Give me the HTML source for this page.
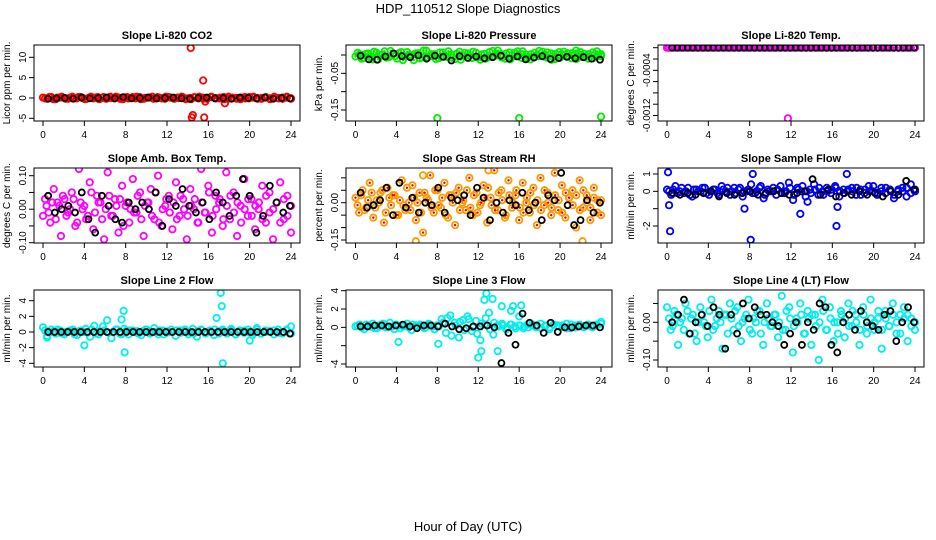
<!DOCTYPE html>
<html><head><meta charset="utf-8"><style>
body{margin:0;background:#fff}
svg{display:block;font-family:"Liberation Sans",sans-serif}
</style></head><body>
<svg id="c" width="936" height="540">
<text x="468" y="13" text-anchor="middle" font-size="13">HDP_110512  Slope Diagnostics</text>
<text x="468" y="531" text-anchor="middle" font-size="13">Hour of Day (UTC)</text>
</svg>
<script>
// ---- data ----
const xTicks=[0,4,8,12,16,20,24];
const co2Main=[0.1,-0.2,0.2,-0.3,0.1,0,-0.2,0.3,-0.1,0.2,-0.3,0.1,-0.1,0.2,0,-0.2,0.3,-0.1,0.1,-0.3,0.2,0,-0.1,0.2,-0.2,0.1,0.3,-0.1,0,-0.2,0.2,-0.1,0.1,0.3,-0.3,0,0.2,-0.1,0.1,-0.2,0.3,0,-0.1,0.2,-0.2,0.1,0,-0.3,0.2,-0.1,0.1,0,-0.2,0.2,-0.1,0.3,0,-0.2,0.1,-0.1];
const co2Main2=[-0.1,0.2,-0.3,0.1,0.3,-0.2,0.1,-0.1,0.2,0,-0.2,0.3,0.1,-0.3,0.2,-0.1,0,0.3,-0.2,0.1,-0.1,0.2,0.3,-0.3,0,0.1,-0.2,0.2,-0.1,0.3,0.1,-0.2,0,0.2,-0.1,-0.3,0.1,0.3,-0.2,0,0.2,-0.1,0.1,-0.3,0.3,0,-0.2,0.1,-0.1,0.2,0.3,-0.2,0,0.1,-0.3,0.2,-0.1,0.1,0.3,-0.2];
const co2Black=[-0.2,-0.1,0,-0.2,0.1,-0.1,0,0.1,-0.1,0.2,-0.1,0,0.1,-0.1,0,0.1,-0.1,-0.2,0,0.1,-0.1,0,-0.2,0.1,0,-0.1,0.1,-0.2,0,-0.1];
const co2OutX=[14.3,15.5,14.4,14.5,15.6,17.6,15.7];
const co2OutY=[12.3,4.3,-4.8,-4.2,-4.8,-1.3,-0.9];
const presMain=[-0.004,0.002,-0.008,0.004,-0.012,0.006,-0.002,0.01,-0.006,0.003,-0.01,0.008,-0.004,0,-0.014,0.005,-0.007,0.012,-0.003,0.002,-0.009,0.007,-0.005,0.001,-0.011,0.009,-0.002,0.004,-0.008,0.006,-0.013,0.003,-0.006,0.011,-0.001,0.002,-0.01,0.007,-0.004,0.01,-0.008,0.001,-0.012,0.006,-0.003,0.009,-0.007,0.004,-0.011,0.008,-0.002,0.005,-0.009,0.012,-0.005,0.003,-0.01,0.007,-0.004,0.002];
const presMain2=[0.006,-0.01,0.003,-0.005,0.009,-0.012,0.001,-0.007,0.011,-0.003,0.005,-0.014,0.008,-0.001,0.004,-0.009,0.012,-0.006,0.002,-0.011,0.007,-0.004,0.01,-0.008,0.003,-0.013,0.006,-0.002,0.009,-0.006,0.001,-0.01,0.008,-0.003,0.012,-0.007,0.004,-0.012,0.006,-0.001,0.01,-0.009,0.002,-0.005,0.011,-0.004,0.007,-0.013,0.003,-0.008,0.009,-0.002,0.005,-0.011,0.008,-0.006,0.002,-0.009,0.01,-0.003];
const presBlack=[-0.002,-0.012,-0.013,-0.004,0.004,-0.003,-0.006,-0.001,-0.01,-0.002,-0.005,-0.015,-0.003,-0.008,-0.004,-0.009,-0.006,-0.002,-0.01,-0.004,-0.012,-0.007,-0.003,-0.011,-0.008,-0.005,-0.009,-0.006,-0.01,-0.013];
const presOutX=[8,16,24];
const presOutY=[-0.172,-0.172,-0.168];
const tempMain=[0,0,0,0,0,0,0,0,0,0,0,0,0,0,0,0,0,0,0,0,0,0,0,0,0,0,0,0,0,0,0,0,0,0,0,0,0,0,0,0,0,0,0,0,0,0,0,0,0,0,0,0,0,0,0,0,0,0,0,0];
const tempMain2=[0,0,0,0,0,0,0,0,0,0,0,0,0,0,0,0,0,0,0,0,0,0,0,0,0,0,0,0,0,0,0,0,0,0,0,0,0,0,0,0,0,0,0,0,0,0,0,0,0,0,0,0,0,0,0,0,0,0,0,0];
const tempBlack=[0,0,0,0,0,0,0,0,0,0,0,0,0,0,0,0,0,0,0,0,0,0,0,0,0,0,0,0,0,0,0,0,0,0,0,0,0,0,0,0,0,0,0,0,0,0,0,0];
const tempOutX=[0.1,11.7];
const tempOutY=[0,-0.00125];
const boxMain=[-0.02,0.01,-0.04,0.06,0.02,-0.08,0.03,-0.01,0.05,-0.05,0.12,0.0,-0.03,0.08,-0.06,0.04,0.02,-0.09,0.11,-0.02,0.03,-0.07,0.07,0.01,-0.04,0.09,-0.01,0.05,-0.08,0.02,0.06,-0.03,0.1,-0.05,0.01,0.04,-0.06,0.08,-0.02,0.03,-0.09,0.06,0.0,-0.04,0.12,-0.01,0.07,-0.07,0.04,0.02,-0.05,0.11,-0.03,0.05,-0.08,0.01,0.09,-0.02,0.03,-0.06,0.0,0.07,-0.04,0.05,-0.09,0.02,0.08,-0.03,0.04,-0.07];
const boxMain2=[0.03,-0.01,0.02,-0.03,0.01,0.04,-0.02,0.0,0.03,-0.04,0.02,0.01,-0.02,0.05,-0.01,0.02,-0.03,0.0,0.04,-0.02,0.01,0.03,-0.05,0.02,0.0,-0.01,0.04,-0.03,0.01,0.02,-0.02,0.05,-0.04,0.0,0.03,-0.01,0.02,-0.03,0.04,0.0,-0.02,0.01,0.03,-0.04,0.02,-0.01,0.05,-0.02,0.0,0.03,-0.03,0.01,0.04,-0.01,0.02,-0.04,0.0,0.03,-0.02,0.01,0.02,-0.03,0.04,-0.01,0.0,0.02,-0.04,0.03,-0.02,0.01];
const boxBlack=[0.04,-0.01,0.0,0.01,-0.01,0.05,-0.03,-0.07,0.04,0.01,-0.03,-0.04,0.02,0.0,0.02,0.0,0.05,-0.05,0.03,0.01,0.06,0.01,-0.01,0.02,-0.03,0.05,0.02,-0.02,0.04,0.09,0.04,-0.07,-0.02,0.07,0.02,-0.01,0.01];
const rhMain=[0.02,-0.04,0.05,-0.02,0.08,-0.06,0.01,0.04,-0.08,0.06,-0.01,0.03,-0.05,0.09,-0.03,0.0,0.07,-0.07,0.04,-0.12,0.02,0.11,-0.04,0.05,-0.02,0.08,-0.06,0.03,-0.09,0.06,0.0,-0.03,0.1,-0.05,0.04,-0.01,0.07,-0.08,0.02,0.13,-0.03,0.05,-0.06,0.09,-0.02,0.03,-0.07,0.08,0.0,-0.04,0.06,-0.09,0.1,-0.01,0.04,-0.05,0.12,-0.03,0.07,-0.06,0.02,0.05,-0.1,0.09,-0.02,0.03,-0.07,0.06,-0.04,0.01];
const rhMain2=[-0.01,0.03,-0.03,0.01,0.04,-0.02,0.0,0.05,-0.04,0.02,0.03,-0.05,0.01,-0.01,0.06,-0.03,0.02,0.0,-0.04,0.04,0.01,-0.02,0.05,-0.01,0.02,-0.05,0.03,0.0,0.04,-0.03,0.01,0.05,-0.02,0.03,-0.04,0.0,0.02,0.06,-0.01,-0.03,0.04,0.01,-0.05,0.03,0.0,0.05,-0.02,-0.04,0.02,0.04,-0.01,0.01,-0.03,0.05,0.0,-0.02,0.03,0.01,-0.04,0.04,0.02,-0.01,0.03,-0.03,0.05,0.0,-0.02,0.02,0.01,-0.05];
const rhBlack=[0.04,-0.02,-0.01,0.01,0.06,-0.05,0.08,-0.02,0.02,-0.04,0.0,-0.01,0.06,-0.04,0.02,0.01,0.03,-0.05,0.06,0.02,-0.07,0.0,-0.04,0.01,-0.01,0.04,-0.03,0.0,-0.07,0.03,0.01,0.12,-0.01,-0.09,-0.07,0.01,-0.04,0.0];
const rhOutX=[5.9,13,6.6,22.2];
const rhOutY=[-0.155,0.13,0.11,-0.155];
const flowMain=[0.1,-0.2,0.3,0.0,-0.1,0.2,-0.3,0.1,0.0,0.2,-0.2,0.1,-0.1,0.3,0.0,-0.2,0.2,0.1,-0.3,0.0,0.4,-0.1,0.2,-0.4,0.1,0.0,-0.2,0.3,-0.1,0.5,-0.5,0.2,0.0,-0.3,0.1,0.4,-0.2,0.0,0.2,-0.1,0.3,-0.3,0.1,0.0,0.2,-0.2,0.1,-0.1,0.3,0.0,-0.2,0.2,-0.1,0.1,-0.4,0.0,0.2,-0.3,0.4,0.1];
const flowMain2=[0.0,0.1,-0.1,0.2,0.0,-0.2,0.1,0.0,0.2,-0.1,0.0,0.1,-0.2,0.1,0.2,0.0,-0.1,0.2,0.0,0.1,-0.1,0.0,0.3,-0.2,0.0,0.2,0.1,-0.1,0.0,0.2,-0.2,0.1,0.3,0.0,-0.1,0.1,0.2,-0.2,0.0,0.1,0.2,0.0,-0.1,0.1,0.0,0.2,-0.2,0.1,0.0,0.3,-0.1,0.0,0.2,0.1,-0.2,0.1,0.0,0.2,-0.1,0.0];
const flowBlack=[-0.1,-0.2,-0.1,-0.2,-0.1,0.0,-0.3,-0.1,-0.2,-0.1,0.0,-0.2,-0.1,0.0,-0.1,-0.2,-0.1,0.0,0.7,-0.2,0.1,-0.3,-0.1,-0.2,0.0,-0.2,-0.1,-0.3,0.0,-0.2,0.6,0.1];
const flowOutX=[0.1,0.2,0.3,8.1,8.3,7.5,12.9,13.6,16.4,17.4,16.5];
const flowOutY=[1.1,-0.8,-2.3,-2.8,1.0,-1.0,-1.3,-0.6,-2.0,1.0,-0.9];
const l2Main=[0.6,-0.5,0.3,-0.2,0.2,-0.3,0.1,0.3,-0.4,0.2,0.4,-0.6,0.8,-0.3,0.7,1.5,-0.8,0.3,-0.2,0.4,-0.3,0.2,0.1,-0.4,0.3,-0.2,0.5,-0.3,0.2,-0.1,0.3,-0.5,0.2,0.1,-0.3,0.4,-0.6,0.3,-0.2,0.2,-0.4,0.1,0.3,-0.2,0.4,-0.3,0.2,-0.1,0.3,-0.4,0.5,-0.2,0.2,0.1,-0.3,0.3,-0.2,0.2,0.7];
const l2Main2=[0.2,-0.1,0.1,0.3,-0.2,0.0,0.2,-0.3,0.1,0.0,-0.1,0.3,-0.2,0.1,0.2,-0.1,0.0,0.3,-0.3,0.1,0.2,0.0,-0.2,0.1,0.3,-0.1,0.0,0.2,-0.3,0.1,0.0,0.2,-0.1,0.3,0.0,-0.2,0.1,0.2,-0.1,0.0,0.3,-0.2,0.1,0.0,0.2,-0.3,0.1,0.2,0.0,-0.1,0.3,-0.2,0.0,0.1,0.2,-0.1,0.0,0.3,-0.2];
const l2Black=[0,0,0,0,0,0,0,0,0,0,0,0,0,0,0,0,0,0,0,0,0,0,0,0,0,0,0,0,0,0,0,0,0,0,0,0,0,-0.2];
const l2OutX=[0.4,4.0,7.8,7.6,7.9,16.8,17.2,17.3,17.4,20.0];
const l2OutY=[-0.7,-1.7,2.7,1.6,-2.6,1.8,5.0,3.3,-4.0,-1.1];
const l3Main=[0.1,0.3,-0.2,0.2,0.4,-0.1,0.3,0.0,0.5,-0.2,0.2,0.1,0.4,-0.3,0.2,0.3,-0.1,0.4,0.1,0.2,0.9,-0.6,1.3,0.5,-1.1,0.8,1.2,-0.4,0.7,-1.4,0.3,1.6,-0.8,0.2,0.4,-0.2,0.3,0.1,0.2,-0.1,0.3,0.2,0.0,0.4,0.1,-0.2,0.3,0.2,0.1,0.4,-0.1,0.2,0.3,0.0,0.2,0.1,0.3,0.6];
const l3Main2=[0.2,0.0,0.3,0.1,-0.1,0.2,0.4,0.0,0.1,0.3,-0.1,0.2,0.0,0.3,0.1,0.2,0.0,0.3,-0.2,0.1,0.5,1.0,-0.9,0.2,0.6,-0.3,0.9,0.0,-0.7,0.4,1.0,-0.2,0.5,0.1,0.2,0.0,0.3,-0.1,0.2,0.1,0.0,0.3,0.2,-0.1,0.2,0.0,0.3,0.1,0.2,-0.1,0.3,0.0,0.2,0.1,0.3,0.0,0.2,0.4];
const l3Black=[0.1,0.1,0.2,0.2,0.1,0.2,0.3,0.1,-0.1,0.2,0.2,0.1,0.4,0.1,-0.2,-0.1,0.1,0.1,0.2,0.0,-3.9,-0.6,-1.9,1.5,0.5,0.2,-0.6,0.5,-0.5,0.0,0.0,0.1,0.2,0.2,0.0];
const l3OutX=[4.2,8.1,12.0,12.3,12.6,12.8,13.4,13.9,14.3,15.2,15.4,16.0,16.2];
const l3OutY=[-1.6,-1.8,-3.3,-2.6,3.0,3.7,3.1,-2.6,2.3,1.8,2.3,1.2,2.4];
const l4Main=[0.04,-0.02,0.03,-0.06,0.01,0.05,-0.03,0.02,-0.05,0.04,0.0,-0.04,0.06,-0.01,0.03,-0.07,0.02,0.05,-0.02,0.04,-0.05,0.01,0.06,-0.03,0.0,0.03,-0.06,0.05,-0.01,0.02,-0.04,0.07,-0.02,0.04,-0.08,0.01,0.05,-0.03,0.03,-0.06,0.02,-0.1,0.06,-0.02,0.04,-0.05,0.0,0.03,-0.04,0.05,-0.01,0.02,-0.06,0.04,-0.03,0.06,-0.02,0.01,-0.07,0.03,-0.01,0.05,-0.03,0.02,0.04,-0.05,0.01,-0.02];
const l4Main2=[0.01,-0.01,0.02,0.0,-0.02,0.03,0.01,-0.03,0.0,0.02,-0.01,0.03,-0.02,0.01,0.0,0.02,-0.03,0.01,0.03,-0.01,0.0,0.02,-0.02,0.01,0.03,-0.03,0.0,0.01,-0.01,0.02,0.0,-0.02,0.03,0.01,-0.01,0.0,0.02,-0.03,0.01,0.02,-0.01,0.0,0.03,-0.02,0.01,0.0,-0.03,0.02,0.01,-0.01,0.03,0.0,-0.02,0.02,-0.01,0.01,0.0,0.03,-0.02,0.01,-0.01,0.02,0.0,-0.03,0.01,0.02,-0.01,0.0];
const l4Black=[0.0,0.02,0.06,-0.03,0.0,0.02,-0.01,0.04,0.02,-0.07,0.02,-0.03,0.05,0.01,0.04,0.02,0.02,0.0,-0.01,-0.06,-0.03,0.0,-0.06,0.0,-0.02,0.05,0.04,-0.06,-0.08,0.0,0.02,-0.02,0.03,0.0,-0.01,-0.02,0.02,0.03,-0.05,0.0,0.04,0.0];

// ---- layout ----
const cols=[{l:34,r:300,x0:43,x24:291},{l:346,r:612,x0:355.5,x24:601},{l:658,r:924,x0:667,x24:915}];
const rows=[{t:45,b:121},{t:168,b:243},{t:290,b:367}];
const NS='http://www.w3.org/2000/svg';
const svg=document.getElementById('c');
function mk(tag,attrs,parent){const e=document.createElementNS(NS,tag);for(const k in attrs)e.setAttribute(k,attrs[k]);(parent||svg).appendChild(e);return e;}

const panels=[
 {c:0,r:0,title:'Slope Li-820 CO2',ylab:'Licor ppm per min.',v0:10,p0:57.3,v1:-5,p1:118.3,ticks:[-5,0,5,10],labs:['-5','0','5','10'],col:'#ff0000',fill:'none',main:co2Main,main2:co2Main2,black:co2Black,ox:co2OutX,oy:co2OutY},
 {c:1,r:0,title:'Slope Li-820 Pressure',ylab:'kPa per min.',v0:0,p0:55,v1:-0.15,p1:110,ticks:[0,-0.05,-0.1,-0.15],labs:['','-0.05','','-0.15'],col:'#00ee00',fill:'#00ee00',main:presMain,main2:presMain2,black:presBlack,ox:presOutX,oy:presOutY},
 {c:2,r:0,title:'Slope Li-820 Temp.',ylab:'degrees C per min.',v0:0,p0:47.7,v1:-0.0012,p1:115.5,ticks:[0,-0.0002,-0.0004,-0.0006,-0.0008,-0.001,-0.0012],labs:['','','-0.0004','','','','-0.0012'],col:'#ff00ff',fill:'none',main:tempMain,main2:tempMain2,black:tempBlack,ox:tempOutX,oy:tempOutY},
 {c:0,r:1,title:'Slope Amb. Box Temp.',ylab:'degrees C per min.',v0:0.1,p0:175.7,v1:-0.1,p1:242.7,ticks:[-0.1,-0.05,0,0.05,0.1],labs:['-0.10','','0.00','','0.10'],col:'#ff00ff',fill:'none',main:boxMain,main2:boxMain2,black:boxBlack,ox:[],oy:[]},
 {c:1,r:1,title:'Slope Gas Stream RH',ylab:'percent per min.',v0:0,p0:202.7,v1:-0.15,p1:240,ticks:[0.1,0.05,0,-0.05,-0.1,-0.15],labs:['','','0.00','','','-0.15'],col:'#ff9900',fill:'#ee0000',main:rhMain,main2:rhMain2,black:rhBlack,ox:rhOutX,oy:rhOutY},
 {c:2,r:1,title:'Slope Sample Flow',ylab:'ml/min per min.',v0:1,p0:174,v1:-2,p1:226,ticks:[1,0,-1,-2],labs:['1','0','','-2'],col:'#0000ff',fill:'none',main:flowMain,main2:flowMain2,black:flowBlack,ox:flowOutX,oy:flowOutY},
 {c:0,r:2,title:'Slope Line 2 Flow',ylab:'ml/min per min.',v0:4,p0:300.7,v1:-4,p1:363.3,ticks:[-4,-2,0,2,4],labs:['-4','-2','0','2','4'],col:'#00eeee',fill:'none',main:l2Main,main2:l2Main2,black:l2Black,ox:l2OutX,oy:l2OutY},
 {c:1,r:2,title:'Slope Line 3 Flow',ylab:'ml/min per min.',v0:4,p0:290.7,v1:-4,p1:364,ticks:[-4,-2,0,2,4],labs:['-4','','0','2','4'],col:'#00eeee',fill:'none',main:l3Main,main2:l3Main2,black:l3Black,ox:l3OutX,oy:l3OutY},
 {c:2,r:2,title:'Slope Line 4 (LT) Flow',ylab:'ml/min per min.',v0:0,p0:322.3,v1:-0.1,p1:360,ticks:[-0.1,-0.05,0,0.05],labs:['-0.10','','0.00',''],col:'#00eeee',fill:'none',main:l4Main,main2:l4Main2,black:l4Black,ox:[],oy:[]}
];

panels.forEach((p,pi)=>{
  const C=cols[p.c],R=rows[p.r];
  const xs=h=>C.x0+(C.x24-C.x0)*h/24;
  const ys=v=>p.p0+(p.p1-p.p0)*(v-p.v0)/(p.v1-p.v0);
  const g=mk('g',{});
  
  
  const cp=mk('clipPath',{id:'cp'+pi},g);
  mk('rect',{x:C.l,y:R.t,width:C.r-C.l,height:R.b-R.t},cp);
  const t=mk('text',{x:(C.l+C.r)/2,y:R.t-6,'text-anchor':'middle','font-size':'11','font-weight':'bold'},g);
  t.textContent=p.title;
  
  
  const yl=mk('text',{transform:`translate(${C.l-24},${(R.t+R.b)/2}) rotate(-90)`,'text-anchor':'middle','font-size':'10'},g);
  yl.textContent=p.ylab;
  
  
  const pts=mk('g',{'clip-path':`url(#cp${pi})`},g);
  function drawSeries(arr,off){
    const n=arr.length;
    arr.forEach((v,i)=>{
      const h=off+i*(24-off)/(n-1);
      const c=mk('circle',{cx:xs(h),cy:ys(v),r:3.2,fill:'none',stroke:p.col,'stroke-width':1.8},pts);
      
      
      if(p.fill!=='none'){mk('circle',{cx:xs(h),cy:ys(v),r:1.2,fill:p.fill},pts);}
    });
  }
  drawSeries(p.main,0);
  drawSeries(p.main2,0.2);
  p.ox.forEach((h,i)=>{
    const c=mk('circle',{cx:xs(h),cy:ys(p.oy[i]),r:3.2,fill:'none',stroke:p.col,'stroke-width':1.8},pts);
    
    
  });
  const m=p.black.length;
  p.black.forEach((v,i)=>{
    const c=mk('circle',{cx:xs(0.5+i*23.4/(m-1)),cy:ys(v),r:3,fill:'none',stroke:'#000','stroke-width':1.8},pts);
    
    
  });
  const box=mk('rect',{x:C.l,y:R.t,width:C.r-C.l,height:R.b-R.t,fill:'none',stroke:'#000','stroke-width':1},g);
  
  
  xTicks.forEach(h=>{
    mk('line',{x1:xs(h),x2:xs(h),y1:R.b,y2:R.b+5,stroke:'#000'},g);
    const tl=mk('text',{x:xs(h),y:R.b+17,'text-anchor':'middle','font-size':'10'},g);
    tl.textContent=h;
    
    
  });
  p.ticks.forEach((v,i)=>{
    const y=ys(v);
    mk('line',{x1:C.l-5,x2:C.l,y1:y,y2:y,stroke:'#000'},g);
    if(p.labs[i]){
      const tl=mk('text',{transform:`translate(${C.l-8},${y}) rotate(-90)`,'text-anchor':'middle','font-size':'10'},g);
      tl.textContent=p.labs[i];
      
      
    }
  });
});
</script>
</body></html>
